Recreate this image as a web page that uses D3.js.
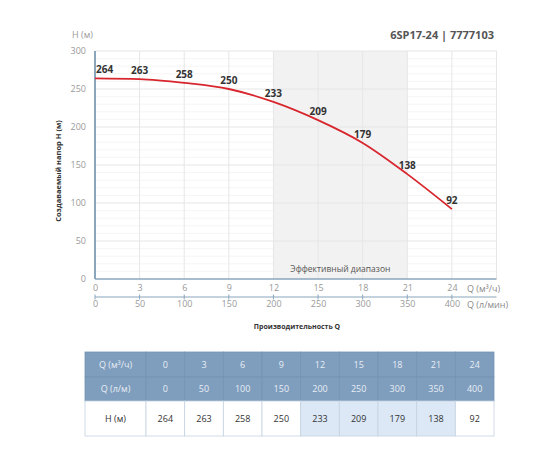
<!DOCTYPE html>
<html><head><meta charset="utf-8">
<script src="https://cdn.jsdelivr.net/npm/d3@7"></script>
<style>
body{margin:0;background:#fff;font-family:"Open Sans",sans-serif;}
svg{display:block;}
</style></head>
<body>
<svg id="c" width="560" height="460"></svg>
<script>
const qM3h = [0, 3, 6, 9, 12, 15, 18, 21, 24];
const qLmin = [0, 50, 100, 150, 200, 250, 300, 350, 400];
const head = [264, 263, 258, 250, 233, 209, 179, 138, 92];
const yTicks = [0, 50, 100, 150, 200, 250, 300];
const effRange = [12, 21];
const title = "6SP17-24 | 7777103";

const svg = d3.select("#c");
const x = d3.scaleLinear().domain([0, 27]).range([95, 496.5]);
const y = d3.scaleLinear().domain([0, 300]).range([279, 51]);
const axisCol = "#8aa6bd";

// efficient range shading
svg.append("rect").attr("x", x(effRange[0])).attr("y", y(300))
  .attr("width", x(effRange[1]) - x(effRange[0])).attr("height", y(0) - y(300))
  .attr("fill", "#f2f2f2");

// minor horizontal grid
svg.append("g").selectAll("line").data(d3.range(10, 300, 10).filter(v => v % 50)).join("line")
  .attr("x1", x(0)).attr("x2", x(27)).attr("y1", d => y(d)).attr("y2", d => y(d))
  .attr("stroke", "#f3f3f3").attr("stroke-width", 0.8);
// major horizontal grid
svg.append("g").selectAll("line").data(yTicks.filter(v => v > 0)).join("line")
  .attr("x1", x(0)).attr("x2", x(27)).attr("y1", d => y(d)).attr("y2", d => y(d))
  .attr("stroke", "#e6e6e6").attr("stroke-width", 1);
// vertical grid
svg.append("g").selectAll("line").data(qM3h.filter(v => v > 0).concat([27])).join("line")
  .attr("x1", d => x(d)).attr("x2", d => x(d)).attr("y1", y(0)).attr("y2", y(300))
  .attr("stroke", "#e6e6e6").attr("stroke-width", 1);

// axes lines
svg.append("line").attr("x1", x(0)).attr("x2", x(0)).attr("y1", y(300)).attr("y2", y(0))
  .attr("stroke", axisCol).attr("stroke-width", 2);
svg.append("line").attr("x1", x(0)).attr("x2", x(27)).attr("y1", y(0)).attr("y2", y(0))
  .attr("stroke", axisCol).attr("stroke-width", 1.5);

// y tick labels
const yAxis = d3.axisLeft(y).tickValues(yTicks).tickSize(0).tickPadding(9);
const gy = svg.append("g").attr("transform", `translate(${x(0)},0)`).call(yAxis);
gy.select(".domain").remove();
gy.selectAll("text").attr("font-size", 9).attr("fill", "#9a9a9a").attr("font-family", "Open Sans");

// bottom axis 1 (m3/h)
const xb1 = d3.axisBottom(x).tickValues(qM3h).tickSize(0).tickPadding(6);
const g1 = svg.append("g").attr("transform", `translate(0,${y(0)})`).call(xb1);
g1.select(".domain").remove();
g1.selectAll("text").attr("font-size", 9).attr("fill", "#9a9a9a").attr("font-family", "Open Sans");

// bottom axis 2 (l/min)
const x2 = d3.scaleLinear().domain([0, 400]).range([x(0), x(24)]);
const ax2y = 297;
svg.append("line").attr("x1", x(0)).attr("x2", x(27)).attr("y1", ax2y).attr("y2", ax2y)
  .attr("stroke", axisCol).attr("stroke-width", 1.2);
const xb2 = d3.axisBottom(x2).tickValues(qLmin).tickSize(0).tickPadding(4);
const g2 = svg.append("g").attr("transform", `translate(0,${ax2y})`).call(xb2);
g2.select(".domain").remove();
g2.selectAll("text").attr("font-size", 9).attr("fill", "#9a9a9a").attr("font-family", "Open Sans");
svg.append("g").selectAll("line").data(qLmin).join("line")
  .attr("x1", d => x2(d)).attr("x2", d => x2(d)).attr("y1", ax2y - 2.5).attr("y2", ax2y + 2.5)
  .attr("stroke", axisCol).attr("stroke-width", 1);

// units
svg.append("text").attr("x", 467).attr("y", 292).text("Q (м³/ч)")
  .attr("font-size", 9).attr("fill", "#8a8a8a");
svg.append("text").attr("x", 467).attr("y", 308).text("Q (л/мин)")
  .attr("font-size", 9).attr("fill", "#8a8a8a");
svg.append("text").attr("x", 72).attr("y", 38).text("H (м)")
  .attr("font-size", 9).attr("fill", "#9a9a9a");

// title
svg.append("text").attr("x", 494).attr("y", 39).attr("text-anchor", "end").text(title)
  .attr("font-size", 11).attr("font-weight", "bold").attr("fill", "#555");

// axis titles
svg.append("text").attr("transform", "translate(61,171) rotate(-90)").attr("text-anchor", "middle")
  .text("Создаваемый напор H (м)").attr("font-size", 7.5).attr("font-weight", "bold").attr("fill", "#333");
svg.append("text").attr("x", 297).attr("y", 329).attr("text-anchor", "middle")
  .text("Производительность Q").attr("font-size", 7).attr("font-weight", "bold").attr("fill", "#333");

// efficient range label
svg.append("text").attr("x", (x(effRange[0]) + x(effRange[1])) / 2).attr("y", 272)
  .attr("text-anchor", "middle").text("Эффективный диапазон")
  .attr("font-size", 8.5).attr("fill", "#555");

// curve
const pts = qM3h.map((q, i) => [q, head[i]]);
svg.append("path").datum(pts)
  .attr("d", d3.line().x(d => x(d[0])).y(d => y(d[1])).curve(d3.curveMonotoneX))
  .attr("fill", "none").attr("stroke", "#d7262d").attr("stroke-width", 1.8);

// data labels
svg.append("g").selectAll("text").data(pts).join("text")
  .attr("x", (d, i) => i === 0 ? x(d[0]) + 1 : x(d[0]))
  .attr("y", d => y(d[1]) - 5)
  .attr("text-anchor", (d, i) => i === 0 ? "start" : "middle")
  .text(d => d[1])
  .attr("font-size", 10).attr("font-weight", "bold").attr("fill", "#333");

// table
const tx0 = 85, firstW = 61, tx1 = 494;
const cw = (tx1 - tx0 - firstW) / qM3h.length;
const rowsY = [352, 377, 401, 436];
const tbl = svg.append("g");
const rowDefs = [
  {label: "Q (м³/ч)", vals: qM3h, header: true},
  {label: "Q (л/м)", vals: qLmin, header: true},
  {label: "H (м)", vals: head, header: false}
];
rowDefs.forEach((r, ri) => {
  const y0 = rowsY[ri], h = rowsY[ri + 1] - y0;
  const cells = [{t: r.label, x: tx0, w: firstW, eff: false}].concat(
    r.vals.map((v, i) => ({t: v, x: tx0 + firstW + i * cw, w: cw,
      eff: qM3h[i] >= effRange[0] && qM3h[i] <= effRange[1]})));
  cells.forEach(c => {
    tbl.append("rect").attr("x", c.x).attr("y", y0).attr("width", c.w).attr("height", h)
      .attr("fill", r.header ? "#7f9dbd" : (c.eff ? "#dce8f6" : "#ffffff"))
      .attr("stroke", r.header ? "#7494b5" : "#c5d3e0").attr("stroke-width", 0.8);
    tbl.append("text").attr("x", c.x + c.w / 2).attr("y", y0 + h / 2 + 3)
      .attr("text-anchor", "middle").text(c.t).attr("font-size", 9)
      .attr("fill", r.header ? "#e8eef5" : "#333");
  });
});
</script>
</body></html>
